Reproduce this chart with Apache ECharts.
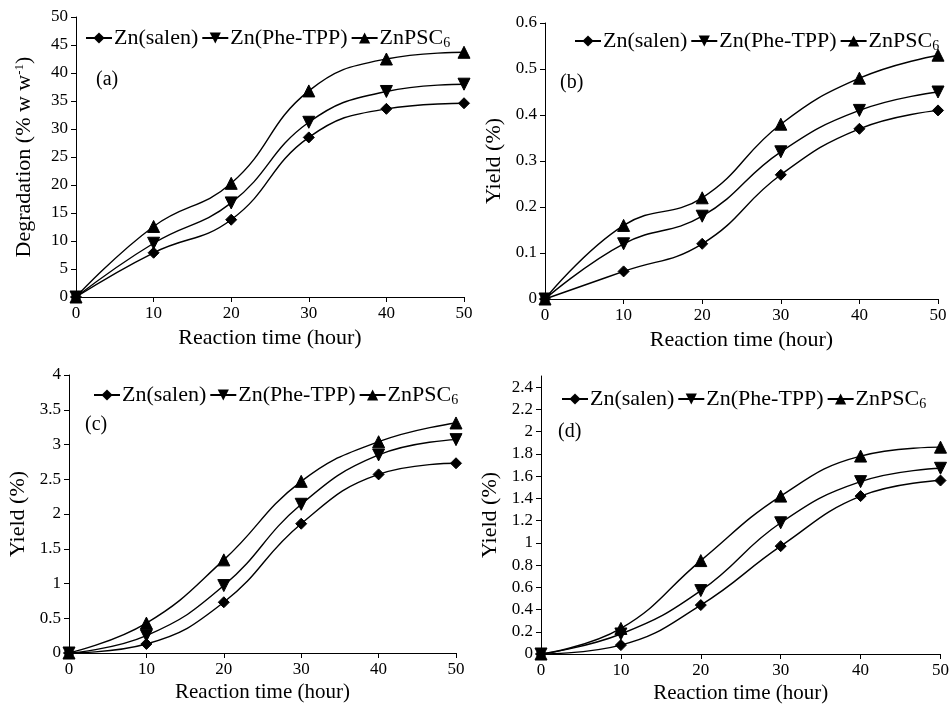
<!DOCTYPE html>
<html>
<head>
<meta charset="utf-8">
<script src="https://cdn.jsdelivr.net/npm/echarts@6/dist/echarts.min.js"></script>
<style>
html,body{margin:0;padding:0;background:#fff;}
#c{width:952px;height:707px;}
</style>
</head>
<body>
<div id="c"></div>
<script>
// ---- data ----
var hours = [0, 10, 20, 30, 40, 50];
var seriesNames = ['Zn(salen)', 'Zn(Phe-TPP)', 'ZnPSC6'];

var aSalen = [0, 7.9, 13.8, 28.5, 33.6, 34.6];
var aPhe   = [0, 9.6, 16.8, 31.2, 36.7, 38.0];
var aPsc   = [0, 12.6, 20.3, 36.8, 42.5, 43.7];

var bSalen = [0, 0.06, 0.12, 0.27, 0.37, 0.41];
var bPhe   = [0, 0.12, 0.18, 0.32, 0.41, 0.45];
var bPsc   = [0, 0.16, 0.22, 0.38, 0.48, 0.53];

var cSalen = [0, 0.13, 0.73, 1.86, 2.57, 2.73];
var cPhe   = [0, 0.25, 0.97, 2.14, 2.85, 3.07];
var cPsc   = [0, 0.43, 1.34, 2.47, 3.04, 3.31];

var dSalen = [0, 0.08, 0.44, 0.97, 1.42, 1.56];
var dPhe   = [0, 0.18, 0.57, 1.18, 1.55, 1.67];
var dPsc   = [0, 0.23, 0.84, 1.42, 1.78, 1.86];

var dYTicks = [0, 0.2, 0.4, 0.6, 0.8, 1, 1.2, 1.4, 1.6, 1.8, 2, 2.2, 2.4];

var panelLetters = ['(a)', '(b)', '(c)', '(d)'];
var xTitle = 'Reaction time (hour)';

// ---- chart ----
var FONT = 'Liberation Serif';
var chart = echarts.init(document.getElementById('c'));

function pairs(ys) { return hours.map(function (h, i) { return [h, ys[i]]; }); }

var panels = [
  { data: [aSalen, aPhe, aPsc], grid: {left: 76, top: 17, width: 388, height: 280},
    yMin: 0, yMax: 50, yInt: 5,
    yName: '{t|Degradation (% w w}{s|-1}{t|)}', yGap: 40,
    legend: {left: 80, top: 22}, letter: [96, 70], xGap: 30, tick: 17, xName: 22 },
  { data: [bSalen, bPhe, bPsc], grid: {left: 545, top: 23, width: 393, height: 276},
    yMin: 0, yMax: 0.6, yInt: 0.1,
    yName: '{t|Yield (%)}', yGap: 40,
    legend: {left: 569, top: 25}, letter: [560, 73], xGap: 30, tick: 17, xName: 22 },
  { data: [cSalen, cPhe, cPsc], grid: {left: 69, top: 375, width: 387, height: 278},
    yMin: 0, yMax: 4, yInt: 0.5,
    yName: '{t|Yield (%)}', yGap: 40,
    legend: {left: 88, top: 379}, letter: [85, 415], xGap: 29, tick: 17, xName: 21 },
  { data: [dSalen, dPhe, dPsc], grid: {left: 541, top: 376, width: 402, height: 278},
    yMin: 0, yMax: 2.5, yInt: 0.2,
    yName: '{t|Yield (%)}', yGap: 40,
    legend: {left: 556, top: 383}, letter: [558, 422], xGap: 29, tick: 17, xName: 21 }
];

var symbols = [
  {symbol: 'diamond', size: 11, rotate: 0},
  {symbol: 'triangle', size: 12, rotate: 180},
  {symbol: 'triangle', size: 12, rotate: 0}
];

var option = {
  backgroundColor: '#fff',
  animation: false,
  textStyle: {fontFamily: FONT, color: '#000'},
  grid: [], xAxis: [], yAxis: [], legend: [], series: [], graphic: []
};

panels.forEach(function (p, gi) {
  option.grid.push(Object.assign({containLabel: false}, p.grid));
  option.xAxis.push({
    type: 'value', gridIndex: gi, min: 0, max: 50, interval: 10,
    name: xTitle, nameLocation: 'middle', nameGap: p.xGap,
    nameTextStyle: {fontFamily: FONT, fontSize: p.xName, color: '#000'},
    axisLine: {lineStyle: {color: '#000', width: 1}},
    axisTick: {inside: false, length: 5, lineStyle: {color: '#000'}},
    axisLabel: {fontFamily: FONT, fontSize: p.tick, color: '#000', margin: 8},
    splitLine: {show: false}
  });
  var ya = {
    type: 'value', gridIndex: gi, min: p.yMin, max: p.yMax, interval: p.yInt,
    name: p.yName, nameLocation: 'middle', nameGap: p.yGap, nameRotate: 90,
    nameTextStyle: {fontFamily: FONT, fontSize: 22, color: '#000',
      rich: {t: {fontFamily: FONT, fontSize: 22, color: '#000'},
             s: {fontFamily: FONT, fontSize: 13, color: '#000', verticalAlign: 'top', padding: [0, 0, 10, 0]}}},
    axisLine: {show: true, lineStyle: {color: '#000', width: 1}},
    axisTick: {show: true, inside: false, length: 5, lineStyle: {color: '#000'}},
    axisLabel: {fontFamily: FONT, fontSize: p.tick, color: '#000', margin: 8},
    splitLine: {show: false}
  };
  if (gi === 3) {
    ya.axisLabel.customValues = dYTicks;
    ya.axisTick.customValues = dYTicks;
  }
  option.yAxis.push(ya);

  var legendData = [];
  p.data.forEach(function (ys, si) {
    var nm = seriesNames[si];
    var sid = nm + '#' + gi;
    legendData.push(sid);
    option.series.push({
      type: 'line', name: sid, xAxisIndex: gi, yAxisIndex: gi,
      data: pairs(ys), smooth: 0.45,
      symbol: symbols[si].symbol, symbolSize: symbols[si].size, symbolRotate: symbols[si].rotate,
      showAllSymbol: true,
      lineStyle: {color: '#000', width: 1.4},
      itemStyle: {color: '#000', borderColor: '#000'},
      z: 3
    });
  });
  option.legend.push({
    left: p.legend.left, top: p.legend.top, width: 600, data: legendData,
    orient: 'horizontal', itemWidth: 26, itemHeight: 14, itemGap: 3,
    selectedMode: false,
    formatter: function (name) {
      var base = name.split('#')[0];
      if (base === 'ZnPSC6') return '{t|ZnPSC}{s|6}';
      return '{t|' + base + '}';
    },
    textStyle: {fontFamily: FONT, fontSize: 22, color: '#000', padding: [0, 0, 0, -3],
      rich: {t: {fontFamily: FONT, fontSize: 22, color: '#000'},
             s: {fontFamily: FONT, fontSize: 14, color: '#000', verticalAlign: 'bottom', padding: [10, 0, 0, 0]}}}
  });
  option.graphic.push({
    type: 'text', left: p.letter[0], top: p.letter[1],
    style: {text: panelLetters[gi], fontFamily: FONT, fontSize: 20, fill: '#000'}
  });
});

chart.setOption(option);
</script>
</body>
</html>
